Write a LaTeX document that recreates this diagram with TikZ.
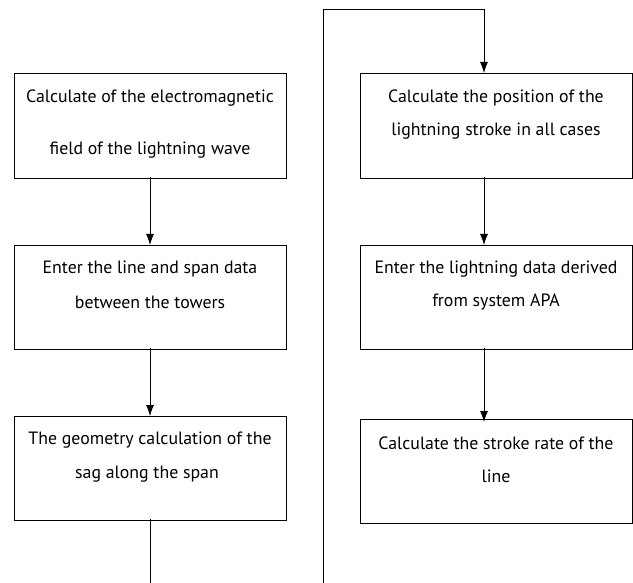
\documentclass[tikz,border=0pt]{standalone}
\usepackage{fontspec}
\setmainfont{PT Sans}
\usetikzlibrary{arrows.meta}
\begin{document}
\begin{tikzpicture}[x=1pt,y=-1pt,
  box/.style={draw,line width=0.9pt,minimum width=272pt,minimum height=105pt,inner sep=0pt,anchor=north west},
  txt/.style={font=\fontsize{17.8}{20}\selectfont,inner sep=0pt,anchor=center},
  conn/.style={line width=0.8pt},
  arr/.style={conn,-{Latex[length=11pt,width=8pt]}}]
\useasboundingbox (0,0) rectangle (633,583);
% left column
\node[box] (b1) at (14,73) {};
\node[box,minimum height=104pt] (b2) at (14,245) {};
\node[box,minimum height=104pt] (b3) at (14,416) {};
\node[txt] (t1a) at (150,98) {Calculate of the electromagnetic};
\node[txt] (t1b) at (150,150) {field of the lightning wave};
\node[txt] (t2a) at (150,269) {Enter the line and span data};
\node[txt] (t2b) at (150,302) {between the towers};
\node[txt] (t3a) at (150,440) {The geometry calculation of the};
\node[txt] (t3b) at (147,474) {sag along the span};
% right column
\node[box] (r1) at (360,73) {};
\node[box,minimum height=104pt] (r2) at (360,245) {};
\node[box,minimum height=104pt] (r3) at (360,419) {};
\node[txt] (u1a) at (496,98) {Calculate the position of the};
\node[txt] (u1b) at (496,131) {lightning stroke in all cases};
\node[txt] (u2a) at (496,269) {Enter the lightning data derived};
\node[txt] (u2b) at (496,302) {from system APA};
\node[txt] (u3a) at (496,443) {Calculate the stroke rate of the};
\node[txt] (u3b) at (496,476) {line};
% connectors
\coordinate (endL) at (150,583);
\coordinate (startR) at (323,583);
\coordinate (topL) at (323,9);
\coordinate (topR) at (484,9);
\draw[arr] ([yshift=2pt]b1.south -| 150,0) -- (b2.north -| 150,0);
\draw[arr] ([yshift=2pt]b2.south -| 150,0) -- (b3.north -| 150,0);
\draw[conn] ([yshift=2pt]b3.south -| 150,0) -- (endL);
\draw[arr] (startR) -- (topL) -- (topR) -- (r1.north -| 484,0);
\draw[arr] ([yshift=2pt]r1.south -| 484,0) -- (r2.north -| 484,0);
\draw[arr] ([yshift=2pt]r2.south -| 484,0) -- ([yshift=-3pt]r3.north -| 484,0);
\end{tikzpicture}
\end{document}
